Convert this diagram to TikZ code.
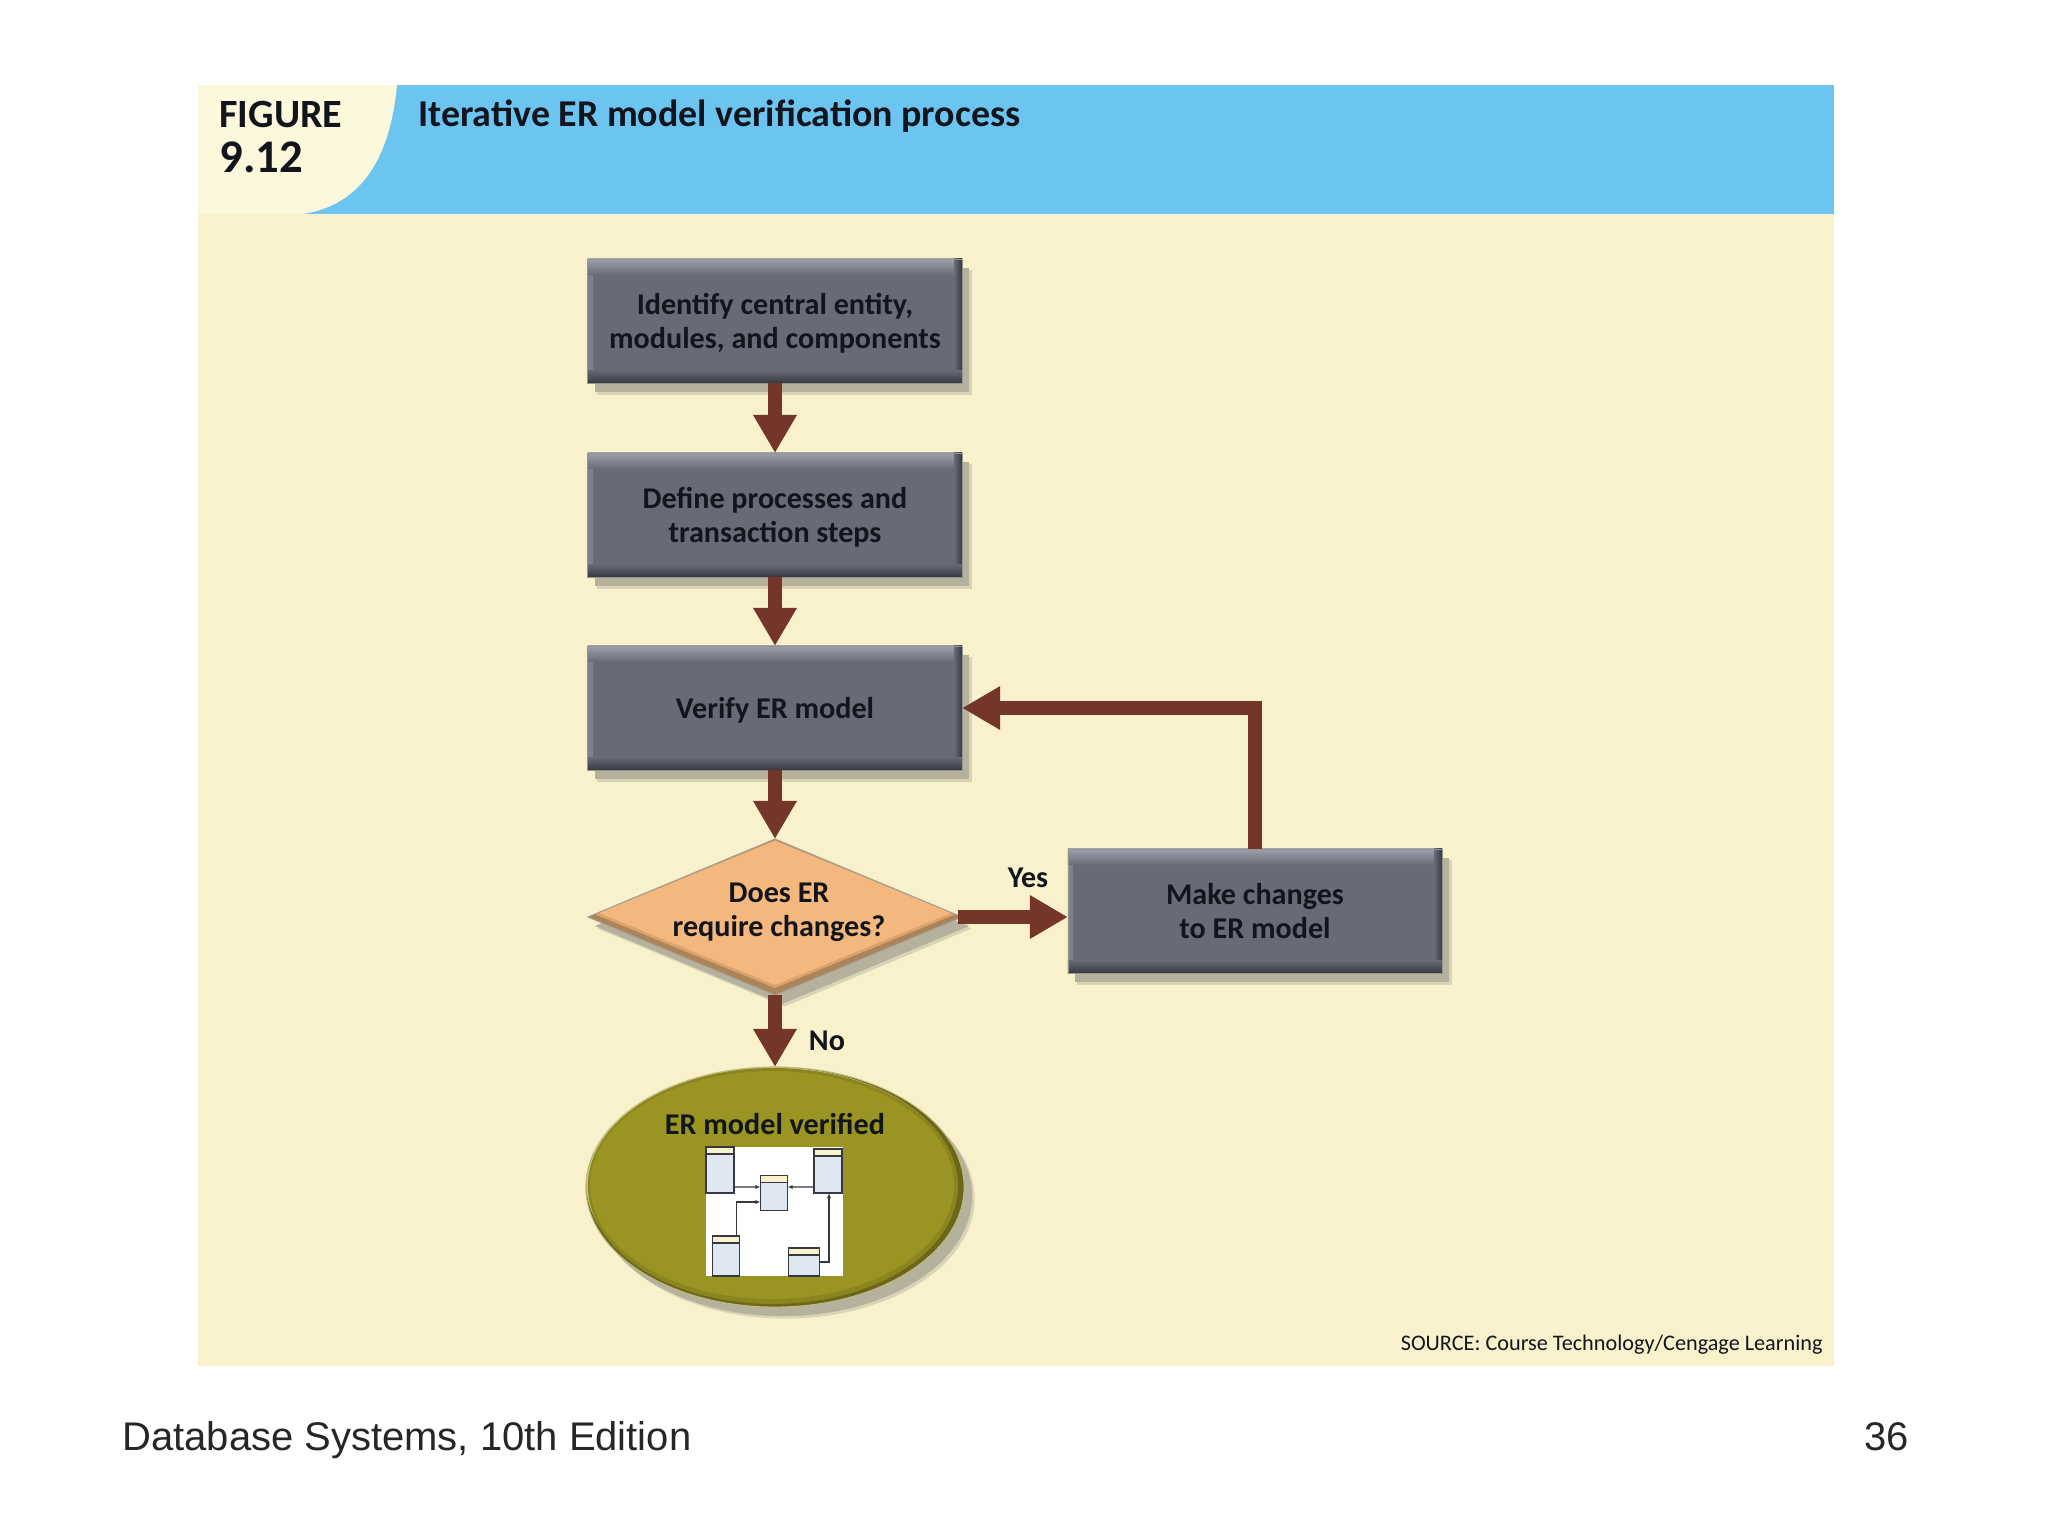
\documentclass[tikz,border=0pt]{standalone}
\usepackage{fontspec}
\setmainfont{Liberation Sans}
\newfontfamily\figfont{Carlito}
\usetikzlibrary{arrows.meta,shapes.geometric,shadows}

\definecolor{panelcream}{HTML}{F9F1CC}
\definecolor{cornercream}{HTML}{FBF8DC}
\definecolor{headblue}{HTML}{6CC4F1}
\definecolor{boxgray}{HTML}{666B77}
\definecolor{boxlight}{HTML}{9DA0AC}
\definecolor{boxside}{HTML}{7D818C}
\definecolor{boxdark}{HTML}{363942}
\definecolor{shadowtan}{HTML}{B5B19C}
\definecolor{arrowbrown}{HTML}{743628}
\definecolor{diamondorange}{HTML}{F4B87E}
\definecolor{diamondmid}{HTML}{D9A36E}
\definecolor{diamonddark}{HTML}{AD8358}
\definecolor{ovalolive}{HTML}{9A9423}
\definecolor{ovalmid}{HTML}{8A851F}
\definecolor{ovaldark}{HTML}{6B6619}
\definecolor{ovallight}{HTML}{C4BF78}
\definecolor{inkdark}{HTML}{12151C}
\definecolor{tablehead}{HTML}{F8F3CC}
\definecolor{tablebody}{HTML}{DFE7F2}

\tikzset{
    softshadow/.style 2 args={
        drop shadow={shadow xshift=#1+.025cm, shadow yshift=#2-.025cm, fill=shadowtan, opacity=.45},
        drop shadow={shadow xshift=#1, shadow yshift=#2, fill=shadowtan, opacity=1}},
    stepbox/.style={rectangle, minimum width=3.74cm, minimum height=1.24cm,
        inner sep=0pt, outer sep=0pt, align=center, fill=boxgray, text=inkdark,
        draw=shadowtan!60!boxgray, line width=.008cm,
        font=\figfont\bfseries\fontsize{8.57}{9.7}\selectfont,
        softshadow={.07cm}{-.09cm},
        path picture={
            \shade[left color=boxside, right color=boxgray] (path picture bounding box.south west) rectangle ([xshift=.05cm]path picture bounding box.north west);
            \shade[top color=boxlight, bottom color=boxgray] (path picture bounding box.north west) rectangle ([yshift=-.16cm]path picture bounding box.north east);
            \shade[left color=boxgray, right color=boxdark] ([xshift=-.08cm]path picture bounding box.south east) rectangle (path picture bounding box.north east);
            \shade[top color=boxgray, bottom color=boxdark] ([yshift=.13cm]path picture bounding box.south west) rectangle (path picture bounding box.south east);
        }},
    decision/.style={diamond, minimum width=3.74cm, minimum height=1.56cm, inner sep=0pt, outer sep=0pt,
        fill=diamonddark, draw=boxgray!60!panelcream, line width=.01cm,
        softshadow={.07cm}{-.09cm},
        path picture={
            \fill[diamondmid] (path picture bounding box.center) ++(0,-77) -- ++(181,74) -- ++(-181,74) -- ++(-181,-74) -- cycle;
            \fill[diamondorange] (path picture bounding box.center) ++(0,-76) -- ++(176,72) -- ++(-176,72) -- ++(-176,-72) -- cycle;
        }},
    verifiedoval/.style={ellipse, minimum width=3.78cm, minimum height=2.4cm, inner sep=0pt, outer sep=0pt,
        fill=ovaldark, draw=ovallight!70!shadowtan, line width=.01cm,
        softshadow={.08cm}{-.09cm},
        path picture={
            \fill[ovallight] (path picture bounding box.center) ++(-4,-4) ellipse [x radius=185, y radius=116];
            \fill[ovalmid] (path picture bounding box.center) ++(-2,-1) ellipse [x radius=185, y radius=118];
            \fill[ovalolive] (path picture bounding box.center) ++(-3,-2) ellipse [x radius=182, y radius=114];
        }},
    flowarrow/.style={-{Triangle[width=.41cm,length=.38cm]}, line width=.14cm, arrowbrown},
    answer/.style={font=\figfont\bfseries\fontsize{8.57}{9.7}\selectfont, text=inkdark},
    minitable/.style={rectangle, draw=boxdark, line width=.012cm, fill=tablebody, inner sep=0pt, outer sep=0pt,
        path picture={
            \fill[tablehead] (path picture bounding box.north west) rectangle ([yshift=-.07cm]path picture bounding box.north east);
            \draw[boxdark, line width=.012cm] ([yshift=-.07cm]path picture bounding box.north west) -- ([yshift=-.07cm]path picture bounding box.north east);
        }},
    minilink/.style={-{Latex[length=.05cm,width=.04cm]}, boxdark, line width=.014cm}
}

\begin{document}
\begin{tikzpicture}[x=.01cm,y=-.01cm]
    \useasboundingbox (0,0) rectangle (2048,1536);
    \fill[white] (0,0) rectangle (2048,1536);

    % panel and header
    \fill[panelcream] (198,85) rectangle (1834,1366);
    \fill[headblue] (198,85) rectangle (1834,214);
    \fill[cornercream] (198,85) -- (397,85) .. controls (390,160) and (360,205) .. (303,214) -- (198,214) -- cycle;

    \node[anchor=west, text=inkdark, font=\figfont\bfseries\fontsize{11.4}{13}\selectfont] (figword) at (207,114) {FIGURE};
    \node[anchor=west, text=inkdark, font=\figfont\bfseries\fontsize{13.3}{15}\selectfont] (fignum) at (207,157) {9.12};
    \node[anchor=west, text=inkdark, font=\figfont\bfseries\fontsize{10.78}{12}\selectfont] (title) at (406,116) {Iterative ER model verification process};

    % flow nodes
    \node[stepbox, text depth=0pt] (identify) at (775,321) {Identify central entity,\\modules, and components};
    \node[stepbox, text depth=0pt] (define) at (775,515) {Define processes and\\transaction steps};
    \node[stepbox, text depth=0pt] (verify) at (775,708) {Verify ER model};
    \node[stepbox] (changes) at (1255,911) {Make changes\\to ER model};
    \node[decision] (require) at (775,917) {};
    \node[answer, align=center] (requiretext) at (779,912) {Does ER\\require changes?};
    \node[verifiedoval] (verified) at (775,1187) {};
    \node[answer] (verifiedtext) at (775,1124) {ER model verified};

    % arrows
    \draw[flowarrow] (identify) -- (define);
    \draw[flowarrow] (define) -- (verify);
    \draw[flowarrow] (verify) -- (require);
    \draw[flowarrow] (require) -- (verified);
    \draw[flowarrow] ([xshift=-.04cm]require.east) -- (changes.west |- require);
    \draw[flowarrow] (changes.north) |- (verify.east);
    \node[answer] (yes) at (1028,878) {Yes};
    \node[answer] (no) at (827,1041) {No};

    % little model inside the oval
    \fill[white] (706,1147) rectangle (843,1276);
    \node[minitable, minimum width=.28cm, minimum height=.46cm] (tabA) at (720,1170) {};
    \node[minitable, minimum width=.28cm, minimum height=.44cm] (tabB) at (828,1171) {};
    \node[minitable, minimum width=.27cm, minimum height=.35cm] (tabC) at (774,1193) {};
    \node[minitable, minimum width=.27cm, minimum height=.40cm] (tabD) at (726,1256) {};
    \node[minitable, minimum width=.31cm, minimum height=.28cm] (tabE) at (804,1262) {};
    \draw[minilink] ([yshift=.06cm]tabA.south east) -- ([yshift=.06cm]tabC.west);
    \draw[minilink] ([yshift=.06cm]tabB.south west) -- ([yshift=.06cm]tabC.east);
    \draw[minilink] ([xshift=-.03cm]tabD.north east) |- ([yshift=-.09cm]tabC.west);
    \draw[minilink] (tabE.east) -| ([xshift=-.13cm]tabB.south east);

    % source and footer
    \node[anchor=east, text=inkdark, font=\figfont\fontsize{6.32}{8}\selectfont] (source) at (1835,1345) {SOURCE: Course Technology/Cengage Learning};
    \node[anchor=base west, text=black!85, font=\fontsize{11.37}{14}\selectfont] (footer) at (110,1450) {Database Systems, 10th Edition};
    \node[anchor=base east, text=black!85, font=\fontsize{11.37}{14}\selectfont] (pagenum) at (1921,1450) {36};
\end{tikzpicture}
\end{document}
